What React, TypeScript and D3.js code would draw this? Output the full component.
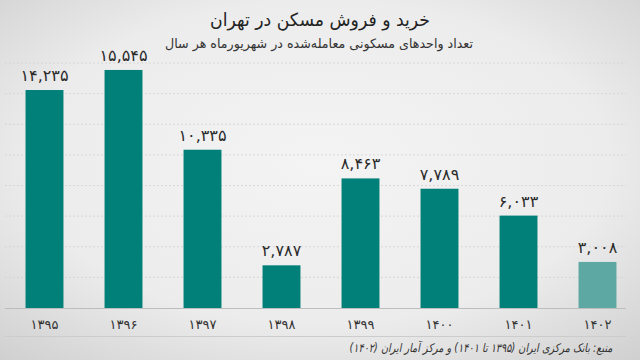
import React from "react";
import * as d3 from "d3";

const W = 640;
const H = 360;

const years = ["1395", "1396", "1397", "1398", "1399", "1400", "1401", "1402"];
const deals = [14235, 15545, 10335, 2787, 8463, 7789, 6033, 3008];
const gridTicks = [2000, 4000, 6000, 8000, 10000, 12000, 14000, 16000];

const title = "خرید و فروش مسکن در تهران";
const subtitle = "تعداد واحدهای مسکونی معامله‌شده در شهریورماه هر سال";
const source = "منبع: بانک مرکزی ایران (۱۳۹۵ تا ۱۴۰۱) و مرکز آمار ایران (۱۴۰۲)";

const faDigits = "۰۱۲۳۴۵۶۷۸۹";
const toFa = (s: string) => s.replace(/[0-9]/g, (c) => faDigits[+c]);
const fmt = d3.format(",");

const FONT = "'DejaVu Sans', sans-serif";

export default function App() {
  const x = d3.scaleBand().domain(years).range([5, 637]).paddingInner(0.52).paddingOuter(0.26);
  const y = d3.scaleLinear().domain([0, 16000]).range([308, 63]);

  return (
    <svg width={W} height={H} style={{ position: "absolute", left: 0, top: 0 }}>
      <defs>
        <radialGradient id="bg" cx="50%" cy="45%" r="75%">
          <stop offset="0%" stopColor="#f4f4f4" />
          <stop offset="60%" stopColor="#ececec" />
          <stop offset="100%" stopColor="#cfcfcf" />
        </radialGradient>
      </defs>
      <rect width={W} height={H} fill="url(#bg)" />

      {gridTicks.map((t) => (
        <line key={t} x1={5} x2={626} y1={y(t)} y2={y(t)} stroke="#d2d2d2" strokeDasharray="2,2" strokeWidth={0.8} />
      ))}

      {years.map((yr, i) => (
        <g key={yr}>
          <rect
            x={x(yr)}
            y={y(deals[i])}
            width={x.bandwidth()}
            height={y(0) - y(deals[i])}
            fill={i === years.length - 1 ? "#5ea8a3" : "#017f79"}
          />
          <text
            x={(x(yr) as number) + x.bandwidth() / 2}
            y={y(deals[i]) - 9}
            textAnchor="middle"
            fontFamily={FONT}
            fontSize={16}
            fill="#2a2a2a"
          >
            {toFa(fmt(deals[i]))}
          </text>
          <text
            x={(x(yr) as number) + x.bandwidth() / 2}
            y={329}
            textAnchor="middle"
            fontFamily={FONT}
            fontSize={13}
            fill="#333"
          >
            {toFa(yr)}
          </text>
        </g>
      ))}

      <line x1={5} x2={626} y1={308.5} y2={308.5} stroke="#bdbdbd" strokeWidth={1} />
      <line x1={5} x2={626} y1={336.5} y2={336.5} stroke="#cccccc" strokeWidth={1} />

      <text x={320} y={26} textAnchor="middle" fontFamily={FONT} fontSize={18} fill="#222"
        textLength={220} lengthAdjust="spacingAndGlyphs">
        {title}
      </text>
      <text x={319} y={48} textAnchor="middle" fontFamily={FONT} fontSize={13} fill="#333"
        textLength={308} lengthAdjust="spacingAndGlyphs">
        {subtitle}
      </text>
      <text
        x={481}
        y={352}
        textAnchor="middle"
        fontFamily={FONT}
        fontSize={12}
        fontStyle="italic"
        fill="#333"
        textLength={263}
        lengthAdjust="spacingAndGlyphs"
      >
        {source}
      </text>
    </svg>
  );
}
